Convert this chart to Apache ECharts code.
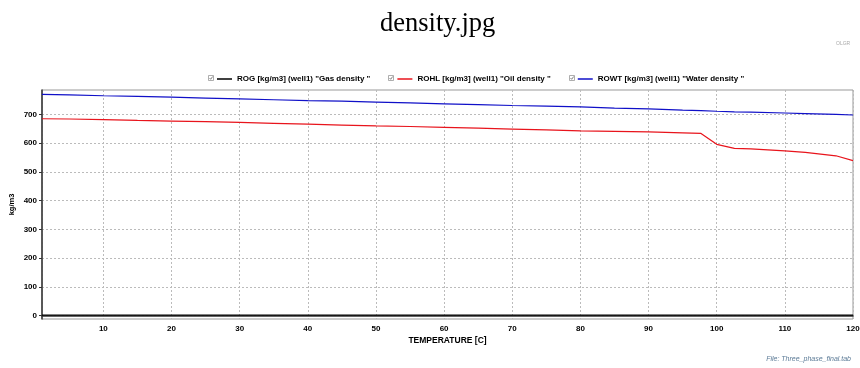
<!DOCTYPE html>
<html><head><meta charset="utf-8">
<script src="https://cdn.jsdelivr.net/npm/echarts@6/dist/echarts.min.js"></script>
<style>html,body{margin:0;padding:0;background:#fff}#c{width:860px;height:368px}</style>
</head><body><div id="c"></div>
<script>
const temps = [1, 5, 10, 15, 20, 25, 30, 35, 40, 45, 50, 55, 60, 65, 70, 75, 80, 85, 90, 95, 97.7, 100, 102.6, 105, 110, 113, 117.5, 120];
const gasDensity = [1.5,1.5,1.5,1.5,1.5,1.5,1.5,1.5,1.5,1.5,1.5,1.5,1.5,1.5,1.5,1.5,1.5,1.5,1.5,1.5,1.5,1.5,1.5,1.5,1.5,1.5,1.5,1.5];
const oilDensity = [685, 684, 682, 679, 677, 675, 672, 669, 666, 663, 660, 658, 655, 652, 649, 646, 643, 641, 639, 636, 634, 596, 582, 580, 573, 568, 556, 539];
const waterDensity = [770, 768, 765, 763, 760, 757, 754, 751, 748, 746, 743, 740, 737, 734, 731, 729, 726, 722, 719, 715, 713, 711, 709, 708, 705, 703, 700, 698];
const xTicks = [10, 20, 30, 40, 50, 60, 70, 80, 90, 100, 110, 120];
const yTicks = [0, 100, 200, 300, 400, 500, 600, 700];
const seriesNames = ['ROG [kg/m3] (well1) "Gas density "', 'ROHL [kg/m3] (well1) "Oil density "', 'ROWT [kg/m3] (well1) "Water density "'];
const seriesColors = ['#000000', '#e8141c', '#1010c8'];

const chart = echarts.init(document.getElementById('c'), null, {renderer: 'canvas'});
const pair = arr => temps.map((t, i) => [t, arr[i]]);
const lab = {fontFamily: 'Liberation Sans, Arial', fontSize: 8, fontWeight: 'bold', color: '#000'};
function checkbox(x) {
  return {type: 'group', left: x, top: 74, children: [
    {type: 'rect', shape: {x: 0, y: 0, width: 5, height: 5}, style: {fill: '#fff', stroke: '#999', lineWidth: 0.8}},
    {type: 'polyline', shape: {points: [[1, 2.5], [2.2, 3.8], [4.2, 1]]}, style: {stroke: '#666', lineWidth: 0.8, fill: null}}
  ]};
}
chart.setOption({
  animation: false,
  title: {text: 'density.jpg', left: 375, top: 6,
    textStyle: {fontFamily: 'Liberation Serif', fontSize: 26.5, fontWeight: 'normal', color: '#000'}},
  legend: {left: 212, top: 70, itemWidth: 15, itemHeight: 1.5, itemGap: 27, icon: 'rect',
    textStyle: Object.assign({}, lab, {fontSize: 8}),
    data: seriesNames},
  grid: {left: 42, right: 7, top: 90, bottom: 49, outerBoundsMode: 'none', containLabel: false,
    show: true, borderColor: '#999', borderWidth: 1},
  xAxis: {type: 'value', min: 1, max: 120, splitNumber: 12, name: 'TEMPERATURE [C]', nameLocation: 'middle', nameGap: 17,
    nameMoveOverlap: false,
    nameTextStyle: Object.assign({}, lab, {fontSize: 8.5}),
    axisLine: {show: true, lineStyle: {color: '#333', width: 1.5}},
    axisTick: {show: false},
    axisLabel: Object.assign({customValues: xTicks, margin: 6}, lab),
    splitLine: {show: true, lineStyle: {color: '#bbb', type: [2, 2]}}},
  yAxis: {type: 'value', min: -12, max: 785, splitNumber: 8, name: 'kg/m3', nameLocation: 'middle', nameGap: 26,
    nameMoveOverlap: false,
    nameTextStyle: Object.assign({}, lab, {fontSize: 7.5}),
    axisLine: {show: true, lineStyle: {color: '#333', width: 1.5}},
    axisTick: {show: true, customValues: yTicks, length: 3, lineStyle: {color: '#333'}},
    axisLabel: Object.assign({customValues: yTicks, margin: 5}, lab),
    splitLine: {show: true, lineStyle: {color: '#bbb', type: [2, 2]}}},
  series: [
    {name: seriesNames[0], type: 'line', data: pair(gasDensity), showSymbol: false, color: seriesColors[0], lineStyle: {width: 1.2}},
    {name: seriesNames[1], type: 'line', data: pair(oilDensity), showSymbol: false, color: seriesColors[1], lineStyle: {width: 1.2}},
    {name: seriesNames[2], type: 'line', data: pair(waterDensity), showSymbol: false, color: seriesColors[2], lineStyle: {width: 1.2}}
  ],
  graphic: [
    {type: 'text', left: 836, top: 41, style: {text: 'OLGR', fontSize: 5, fill: '#aaa', fontFamily: 'Liberation Sans'}},
    {type: 'text', right: 9, top: 356, style: {text: 'File: Three_phase_final.tab', fontSize: 7, fontStyle: 'italic', fill: '#5b7a96', fontFamily: 'Liberation Sans'}},
    checkbox(207), checkbox(387), checkbox(568)
  ]
});
</script></body></html>
